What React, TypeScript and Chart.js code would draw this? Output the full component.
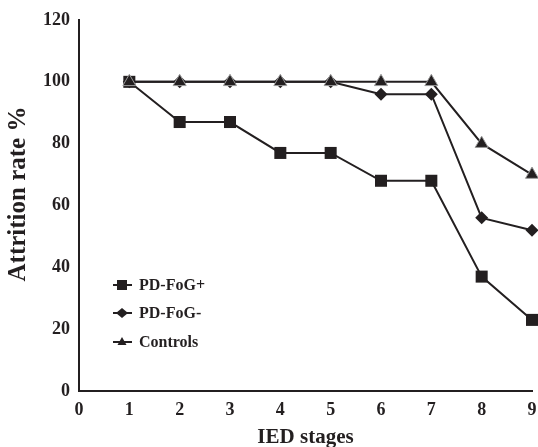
import React, { useEffect, useRef } from "react";
import { Chart, registerables } from "chart.js";

Chart.register(...registerables);

const stages = [1, 2, 3, 4, 5, 6, 7, 8, 9];
const fogPlus = [100, 87, 87, 77, 77, 68, 68, 37, 23];
const fogMinus = [100, 100, 100, 100, 100, 96, 96, 56, 52];
const controls = [100, 100, 100, 100, 100, 100, 100, 80, 70];
const seriesNames = ["PD-FoG+", "PD-FoG-", "Controls"];
const yTitle = "Attrition rate %";
const xTitle = "IED stages";

const INK = "#231f20";
const FONT = "'Liberation Serif', 'Times New Roman', serif";

const legendPlugin = {
  id: "insideLegend",
  afterDraw(chart: any) {
    const ctx = chart.ctx;
    const x0 = 113;
    const x1 = 132;
    const mx = 122;
    const rows = [285, 313, 342];
    ctx.save();
    rows.forEach((y, i) => {
      ctx.strokeStyle = INK;
      ctx.lineWidth = 2;
      ctx.beginPath();
      ctx.moveTo(x0, y);
      ctx.lineTo(x1, y);
      ctx.stroke();
      ctx.fillStyle = INK;
      ctx.beginPath();
      if (i === 0) {
        ctx.rect(mx - 5, y - 5, 10, 10);
      } else if (i === 1) {
        ctx.moveTo(mx, y - 5);
        ctx.lineTo(mx + 6, y);
        ctx.lineTo(mx, y + 5);
        ctx.lineTo(mx - 6, y);
        ctx.closePath();
      } else {
        ctx.moveTo(mx, y - 5);
        ctx.lineTo(mx + 4.5, y + 3);
        ctx.lineTo(mx - 4.5, y + 3);
        ctx.closePath();
      }
      ctx.fill();
      ctx.font = `bold 16px ${FONT}`;
      ctx.textBaseline = "middle";
      ctx.textAlign = "left";
      ctx.fillStyle = INK;
      ctx.fillText(seriesNames[i], 139, y + 1);
    });
    // y axis title
    ctx.translate(19, 194);
    ctx.rotate(-Math.PI / 2);
    ctx.font = `bold 25px ${FONT}`;
    ctx.textAlign = "center";
    ctx.textBaseline = "middle";
    ctx.fillStyle = INK;
    ctx.fillText(yTitle, 0, 0);
    ctx.restore();
  },
};

export default function App() {
  const ref = useRef<HTMLCanvasElement>(null);
  useEffect(() => {
    document.body.style.margin = "0";
    const pts = (arr: number[]) => arr.map((v, i) => ({ x: stages[i], y: v }));
    const chart = new Chart(ref.current!, {
      type: "line",
      data: {
        datasets: [
          {
            label: seriesNames[0],
            data: pts(fogPlus),
            borderColor: INK,
            backgroundColor: INK,
            borderWidth: 2,
            pointStyle: "rect",
            pointRadius: 8.5,
            pointBorderWidth: 0,
            pointBackgroundColor: INK,
            clip: false as any,
            order: 3,
          },
          {
            label: seriesNames[1],
            data: pts(fogMinus),
            borderColor: INK,
            backgroundColor: INK,
            borderWidth: 2,
            pointStyle: "rectRot",
            pointRadius: 6.5,
            pointBorderWidth: 0,
            pointBackgroundColor: INK,
            clip: false as any,
            order: 2,
          },
          {
            label: seriesNames[2],
            data: pts(controls),
            borderColor: INK,
            backgroundColor: INK,
            borderWidth: 2,
            pointStyle: "triangle",
            pointRadius: 7.5,
            pointBorderWidth: 1,
            pointBorderColor: "#9a9a9a",
            pointBackgroundColor: INK,
            clip: false as any,
            order: 1,
          },
        ],
      },
      options: {
        responsive: false,
        animation: false,
        layout: { autoPadding: false, padding: { top: 20, right: 6, left: 0, bottom: 0 } },
        plugins: { legend: { display: false }, tooltip: { enabled: false } },
        scales: {
          x: {
            type: "linear",
            min: 0,
            max: 9,
            grid: { display: false, drawTicks: false },
            border: { display: true, color: INK, width: 2 },
            ticks: {
              stepSize: 1,
              color: INK,
              padding: 9,
              font: { family: FONT, size: 18, weight: "bold" },
            },
            title: {
              display: true,
              text: xTitle,
              color: INK,
              padding: { top: 0, bottom: -3 },
              font: { family: FONT, size: 21, weight: "bold" },
            },
            afterFit(scale: any) {
              scale.height = 56;
              scale.paddingLeft = 0;
              scale.paddingRight = 0;
            },
          },
          y: {
            min: 0,
            max: 120,
            grid: { display: false, drawTicks: false },
            border: { display: true, color: INK, width: 2 },
            ticks: {
              stepSize: 20,
              color: INK,
              padding: 9,
              font: { family: FONT, size: 18, weight: "bold" },
            },
            afterFit(scale: any) {
              scale.width = 79;
              scale.paddingTop = 0;
              scale.paddingBottom = 0;
            },
          },
        },
      },
      plugins: [legendPlugin],
    });
    return () => chart.destroy();
  }, []);
  return (
    <div style={{ position: "absolute", left: 0, top: 0, width: 538, height: 447 }}>
      <canvas ref={ref} width={538} height={447} />
    </div>
  );
}
